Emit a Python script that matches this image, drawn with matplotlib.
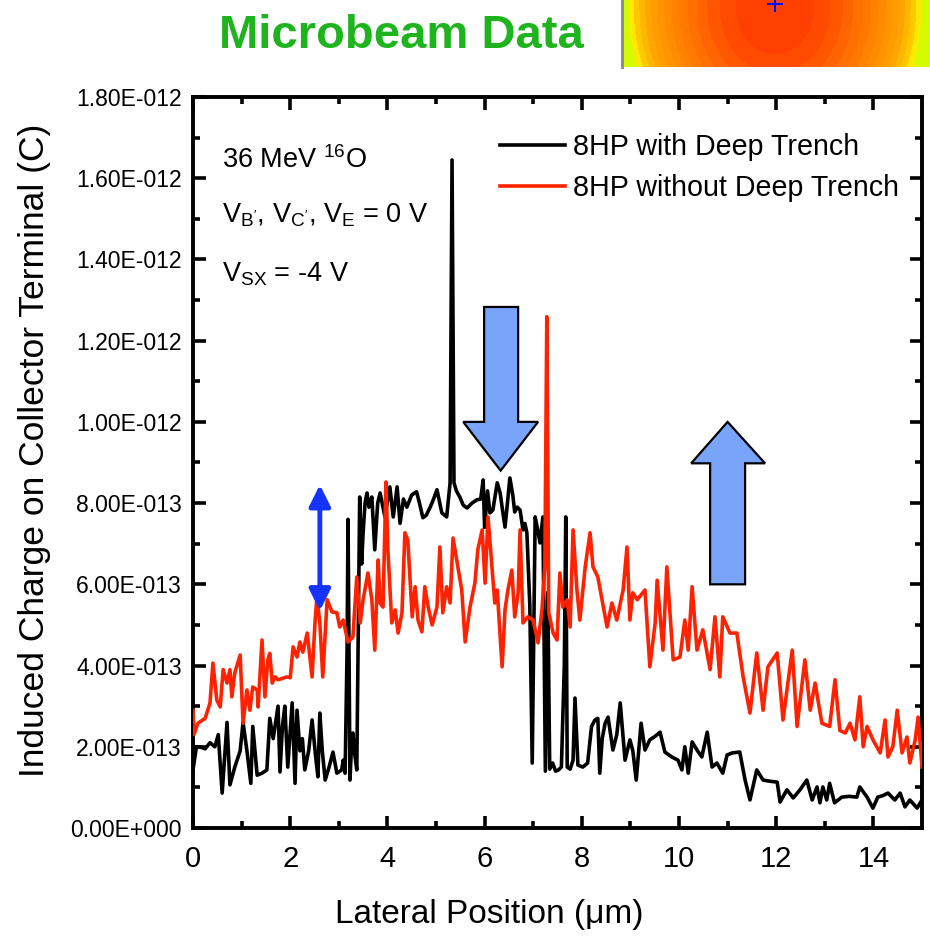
import numpy as np
import matplotlib
matplotlib.use("Agg")
import matplotlib.pyplot as plt
from matplotlib.patches import Polygon, FancyArrowPatch
from matplotlib.colors import LinearSegmentedColormap

# ---------------- data (x in um, charge in units of 1e-13 C) ----------------
x_with = [0.00, 0.07, 0.14, 0.25, 0.35, 0.45, 0.52, 0.60, 0.70, 0.76, 0.86, 0.97, 1.03, 1.11, 1.19,
          1.23, 1.32, 1.42, 1.52, 1.58, 1.65, 1.75, 1.79, 1.84, 1.89, 1.95, 2.00, 2.04, 2.10, 2.14,
          2.20, 2.25, 2.30, 2.38, 2.45, 2.52, 2.57, 2.61, 2.66, 2.72, 2.80, 2.88, 2.96, 3.02, 3.06,
          3.09, 3.13, 3.17, 3.19, 3.23, 3.26, 3.29, 3.33, 3.37, 3.40, 3.43, 3.47, 3.50, 3.54, 3.58,
          3.62, 3.68, 3.74, 3.80, 3.85, 3.95, 4.05, 4.12, 4.20, 4.26, 4.33, 4.40, 4.50, 4.60, 4.66,
          4.73, 4.80, 4.88, 4.95, 5.02, 5.12, 5.22, 5.29, 5.33, 5.37, 5.42, 5.49, 5.56, 5.64, 5.74,
          5.84, 5.92, 5.97, 6.00, 6.06, 6.11, 6.17, 6.26, 6.32, 6.36, 6.42, 6.47, 6.52, 6.58, 6.62,
          6.67, 6.73, 6.79, 6.83, 6.87, 6.93, 6.98, 7.04, 7.10, 7.14, 7.20, 7.25, 7.30, 7.34, 7.40,
          7.46, 7.52, 7.58, 7.64, 7.67, 7.70, 7.76, 7.82, 7.86, 7.92, 8.02, 8.12, 8.20, 8.27, 8.33,
          8.37, 8.42, 8.48, 8.54, 8.64, 8.72, 8.79, 8.89, 8.99, 9.05, 9.12, 9.22, 9.30, 9.40, 9.50,
          9.61, 9.71, 9.85, 9.98, 10.06, 10.12, 10.19, 10.27, 10.37, 10.47, 10.58, 10.68, 10.78, 10.90,
          10.99, 11.10, 11.25, 11.36, 11.46, 11.60, 11.73, 11.88, 12.02, 12.08, 12.22, 12.35, 12.49,
          12.63, 12.74, 12.84, 12.90, 12.96, 13.04, 13.10, 13.20, 13.35, 13.50, 13.66, 13.72, 13.87,
          13.99, 14.09, 14.20, 14.30, 14.44, 14.55, 14.65, 14.75, 14.90, 15.00]
q_with = [1.43, 2.00, 2.00, 1.95, 2.10, 2.00, 2.30, 0.86, 2.60, 1.06, 1.50, 1.90, 2.60, 1.90, 1.10,
          2.50, 1.30, 1.35, 1.43, 2.70, 2.20, 3.00, 1.38, 2.50, 3.00, 1.50, 2.40, 3.08, 1.10, 2.90,
          1.90, 2.20, 1.43, 1.90, 2.66, 1.80, 1.26, 2.83, 1.90, 1.18, 1.50, 1.87, 1.35, 1.40, 1.43,
          1.67, 1.35, 4.38, 7.60, 1.18, 2.00, 2.34, 1.80, 1.43, 4.90, 8.15, 6.50, 7.27, 8.00, 8.25,
          7.90, 8.15, 6.85, 8.00, 8.25, 7.66, 8.40, 7.66, 8.40, 7.50, 8.10, 7.90, 8.20, 8.28, 8.00,
          7.64, 7.70, 7.90, 8.10, 8.33, 7.76, 7.66, 8.50, 16.45, 8.50, 8.30, 8.15, 7.95, 7.88, 8.00,
          8.08, 8.10, 8.57, 7.40, 8.30, 7.76, 7.83, 8.50, 8.25, 7.90, 7.41, 8.00, 8.62, 8.20, 7.78,
          7.90, 7.83, 7.34, 7.50, 7.27, 5.50, 1.60, 7.66, 7.30, 7.02, 7.66, 1.40, 5.80, 1.45, 1.60,
          1.40, 1.43, 1.50, 4.00, 7.66, 1.50, 1.45, 1.67, 3.20, 1.55, 1.50, 1.60, 2.50, 2.66, 2.70,
          1.35, 2.20, 2.58, 2.73, 1.92, 2.30, 3.08, 1.67, 2.17, 1.90, 1.18, 2.58, 1.92, 2.17, 2.25,
          2.36, 1.87, 1.75, 1.67, 1.43, 2.00, 1.35, 2.12, 1.92, 1.75, 2.36, 1.50, 1.60, 1.35,
          1.80, 1.85, 1.87, 1.18, 0.69, 1.43, 1.18, 1.15, 1.13, 0.64, 0.94, 0.74, 0.94,
          1.18, 0.69, 1.01, 0.62, 1.01, 0.69, 1.10, 0.62, 0.76, 0.78, 0.76, 1.01, 0.76,
          0.49, 0.76, 0.80, 0.86, 0.69, 0.86, 0.52, 0.69, 0.49, 0.69]

x_without = [0.00, 0.02, 0.10, 0.25, 0.35, 0.41, 0.49, 0.56, 0.62, 0.70, 0.76, 0.80, 0.86, 0.97, 1.03,
             1.11, 1.17, 1.23, 1.32, 1.34, 1.42, 1.48, 1.54, 1.58, 1.63, 1.69, 1.75, 1.93, 2.00, 2.06,
             2.14, 2.20, 2.26, 2.35, 2.45, 2.51, 2.55, 2.61, 2.67, 2.76, 2.86, 2.96, 3.02, 3.09, 3.19,
             3.29, 3.37, 3.44, 3.50, 3.60, 3.68, 3.74, 3.81, 3.85, 3.91, 3.97, 4.01, 4.09, 4.16, 4.22,
             4.30, 4.36, 4.42, 4.51, 4.57, 4.63, 4.71, 4.77, 4.84, 4.92, 5.02, 5.08, 5.14, 5.22, 5.29,
             5.35, 5.45, 5.53, 5.60, 5.70, 5.80, 5.86, 5.95, 6.01, 6.07, 6.15, 6.21, 6.26, 6.36, 6.42,
             6.48, 6.56, 6.62, 6.69, 6.73, 6.79, 6.89, 7.00, 7.10, 7.18, 7.24, 7.28, 7.32, 7.41, 7.49,
             7.55, 7.61, 7.70, 7.76, 7.82, 7.90, 7.96, 8.07, 8.17, 8.23, 8.33, 8.52, 8.62, 8.72, 8.85,
             8.93, 8.99, 9.05, 9.14, 9.30, 9.40, 9.51, 9.55, 9.67, 9.75, 9.88, 10.02, 10.12, 10.19,
             10.27, 10.37, 10.49, 10.64, 10.74, 10.84, 10.90, 11.05, 11.19, 11.32, 11.46, 11.60,
             11.73, 11.83, 12.02, 12.14, 12.33, 12.43, 12.59, 12.70, 12.80, 12.94, 13.10, 13.21,
             13.31, 13.42, 13.52, 13.62, 13.72, 13.79, 13.87, 13.99, 14.14, 14.24, 14.30, 14.40,
             14.49, 14.59, 14.69, 14.75, 14.86, 14.92, 15.00]
q_without = [2.90, 2.30, 2.58, 2.70, 3.08, 4.06, 3.15, 2.98, 3.90, 3.57, 3.90, 3.23, 3.82, 4.26, 2.58,
             3.40, 2.90, 3.47, 3.40, 2.98, 4.63, 3.23, 4.14, 4.30, 3.57, 3.72, 3.65, 3.72, 3.70, 4.46,
             4.21, 4.58, 4.33, 4.80, 3.72, 5.05, 5.69, 5.05, 3.72, 5.62, 5.32, 5.30, 4.95, 5.12, 4.58,
             4.70, 6.18, 5.05, 5.62, 6.28, 5.62, 4.38, 6.60, 5.54, 5.44, 8.52, 6.85, 5.05, 5.37, 4.80,
             5.30, 7.27, 7.09, 5.20, 5.94, 5.12, 4.83, 5.94, 5.44, 5.00, 5.44, 6.92, 5.30, 5.94, 5.54,
             7.14, 6.43, 5.86, 4.58, 5.44, 6.03, 6.85, 7.34, 6.03, 7.66, 6.43, 5.54, 5.86, 3.97, 5.37,
             5.86, 6.35, 5.20, 5.79, 7.34, 5.05, 5.20, 5.12, 4.56, 5.37, 6.43, 12.59, 5.30, 4.80, 4.63,
             6.28, 5.44, 5.62, 4.95, 7.34, 5.86, 5.12, 6.43, 7.27, 6.43, 6.18, 4.95, 5.54, 5.12, 5.86,
             6.92, 5.12, 5.79, 5.62, 5.86, 3.97, 5.05, 6.10, 4.38, 6.43, 4.14, 4.21, 5.12, 4.38,
             5.94, 4.38, 4.88, 3.90, 5.20, 3.72, 5.20, 4.80, 4.80, 3.72, 2.83, 4.31,
             2.90, 3.97, 4.31, 2.66, 4.38, 2.50, 4.14, 2.90, 3.57, 2.58, 2.50, 3.65,
             2.40, 2.34, 2.58, 2.17, 3.23, 2.00, 2.50, 2.17, 1.85, 2.66, 1.75, 2.00,
             2.90, 1.85, 2.24, 1.60, 2.17, 2.73, 1.50]

labels = ["8HP with Deep Trench", "8HP without Deep Trench"]
y_ticks = [0.0, 2e-13, 4e-13, 6e-13, 8e-13, 1e-12, 1.2e-12, 1.4e-12, 1.6e-12, 1.8e-12]
y_ticklabels = ["0.00E+000", "2.00E-013", "4.00E-013", "6.00E-013", "8.00E-013",
                "1.00E-012", "1.20E-012", "1.40E-012", "1.60E-012", "1.80E-012"]
x_ticks = [0, 2, 4, 6, 8, 10, 12, 14]

# ---------------- figure ----------------
W, H = 930, 948
fig = plt.figure(figsize=(W / 100, H / 100), dpi=100)
plt.rcParams['font.family'] = ['Liberation Sans', 'DejaVu Sans']
plt.rcParams['mathtext.fontset'] = 'custom'
plt.rcParams['mathtext.rm'] = 'Liberation Sans'

def fx(px):
    return px / W

def fy(py):
    return 1 - py / H

L, R, T, B = 193, 922, 97, 828
ax = fig.add_axes([fx(L), fy(B), (R - L) / W, (B - T) / H])

scale = 1e-13
ax.plot(x_with, np.array(q_with) * scale, color='black', lw=2.6, label=labels[0], zorder=3)
ax.plot(x_without, np.array(q_without) * scale, color='#FF2200', lw=2.6, label=labels[1], zorder=4)

ax.set_xlim(0, 15)
ax.set_ylim(0, 1.8e-12)
ax.set_xticks(x_ticks)
ax.set_xticklabels([str(t) for t in x_ticks], fontsize=21)
ax.set_xticks(np.arange(1, 15, 2), minor=True)
ax.set_yticks(y_ticks)
ax.set_yticklabels(y_ticklabels, fontsize=16.5)
ax.set_yticks(np.arange(1e-13, 1.8e-12, 2e-13), minor=True)
ax.tick_params(which='both', direction='in', top=True, right=True, width=2.6)
ax.tick_params(which='major', length=9)
ax.tick_params(axis='x', which='major', pad=12)
ax.tick_params(axis='y', which='major', pad=8)
ax.tick_params(which='minor', length=5)
for s in ax.spines.values():
    s.set_linewidth(2.8)

fig.text(fx(489), fy(915), "Lateral Position (\u03bcm)", fontsize=24, ha='center', va='center')
fig.text(fx(35), fy(450), "Induced Charge on Collector Terminal (C)", fontsize=25.5,
         rotation=90, ha='center', va='center')

leg = ax.legend(loc='upper left', frameon=False, fontsize=20.6, handlelength=2.25,
                handletextpad=0.3, borderaxespad=0.0, labelspacing=0.45,
                bbox_to_anchor=((489 - L) / (R - L), 0.966))

# annotation text
ax.text(0.04, 0.913, r"36 MeV $^{\mathregular{16}}$O", transform=ax.transAxes, fontsize=19.5, va='center')
ax.text(0.04, 0.838, r"V$_{\mathregular{B'}}$, V$_{\mathregular{C'}}$, V$_{\mathregular{E}}$ = 0 V",
        transform=ax.transAxes, fontsize=19.5, va='center')
ax.text(0.04, 0.757, r"V$_{\mathregular{SX}}$ = -4 V", transform=ax.transAxes, fontsize=19.5, va='center')

# big block arrows (positions in data coordinates)
blue_fill = '#78A4FA'
down = [(5.99, 12.83e-13), (6.69, 12.83e-13), (6.69, 10.0e-13), (7.1, 10.0e-13),
        (6.33, 8.8e-13), (5.56, 10.0e-13), (5.99, 10.0e-13)]
ax.add_patch(Polygon(down, closed=True, facecolor=blue_fill, edgecolor='black', lw=1.6, zorder=5))
up = [(10.64, 6.0e-13), (11.36, 6.0e-13), (11.36, 8.98e-13), (11.77, 8.98e-13),
      (11.0, 10.0e-13), (10.25, 8.98e-13), (10.64, 8.98e-13)]
ax.add_patch(Polygon(up, closed=True, facecolor=blue_fill, edgecolor='black', lw=1.6, zorder=5))

# double-headed blue arrow
ax.add_patch(FancyArrowPatch((2.61, 5.35e-13), (2.61, 8.45e-13), arrowstyle='<|-|>',
                             mutation_scale=32, color='#1433FF', lw=3.5, zorder=6,
                             shrinkA=0, shrinkB=0))

# title
fig.text(fx(401), fy(36), "Microbeam Data", color='#1EB41E', fontsize=34,
         fontweight='bold', ha='center', va='center')

# inset image (top right)
iax = fig.add_axes([fx(622), fy(67), (W - 622) / W, 67 / H])
nx, ny = 308, 67
xx, yy = np.meshgrid(np.linspace(-153, 155, nx), np.linspace(-8, 59, ny))
d = (np.abs(xx) / 152.0) ** 2 + (np.maximum(yy, 0) / 180.0) ** 2
levels = np.floor(np.clip(d, 0, 0.999) * 15) / 15
cmap = LinearSegmentedColormap.from_list('heat', [(0.0, '#FF4000'), (0.1, '#FF5000'),
                                                  (0.25, '#FF6E00'), (0.45, '#FF8A00'),
                                                  (0.67, '#FFA500'), (0.8, '#FFC800'),
                                                  (0.88, '#FFF000'), (0.95, '#C8FF00'),
                                                  (1.0, '#80FF00')])
iax.imshow(levels, cmap=cmap, vmin=0, vmax=1, aspect='auto', origin='upper',
           extent=[0, nx, ny, 0], interpolation='nearest')
iax.plot([153], [4], marker='+', color='#0010FF', markersize=12, mew=1.5)
iax.set_xlim(0, nx)
iax.set_ylim(ny, 0)
iax.set_xticks([])
iax.set_yticks([])
for k, s in iax.spines.items():
    s.set_visible(k == 'left')
iax.spines['left'].set_color('#888888')
iax.spines['left'].set_linewidth(2)

fig.savefig("out.png", dpi=100)
